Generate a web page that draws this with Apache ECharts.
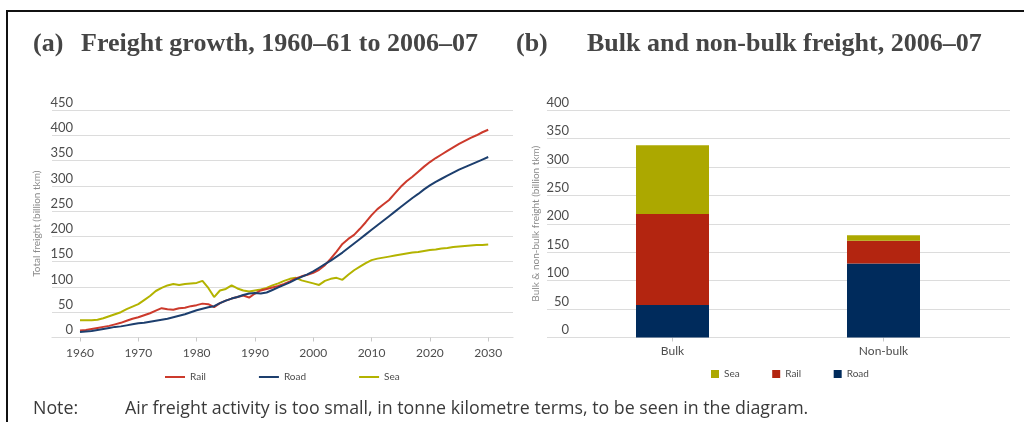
<!DOCTYPE html>
<html>
<head>
<meta charset="utf-8">
<script src="https://cdn.jsdelivr.net/npm/echarts@6/dist/echarts.min.js"></script>
<style>
html, body { margin: 0; padding: 0; background: #fff; }
#chart { width: 1024px; height: 422px; }
</style>
</head>
<body>
<div id="chart"></div>
<script>
// (a) freight growth, billion tkm
var years = [1960, 1961, 1962, 1963, 1964, 1965, 1966, 1967, 1968, 1969,
	1970, 1971, 1972, 1973, 1974, 1975, 1976, 1977, 1978, 1979,
	1980, 1981, 1982, 1983, 1984, 1985, 1986, 1987, 1988, 1989,
	1990, 1991, 1992, 1993, 1994, 1995, 1996, 1997, 1998, 1999,
	2000, 2001, 2002, 2003, 2004, 2005, 2006, 2007, 2008, 2009,
	2010, 2011, 2012, 2013, 2014, 2015, 2016, 2017, 2018, 2019,
	2020, 2021, 2022, 2023, 2024, 2025, 2026, 2027, 2028, 2029, 2030];
var railGrowth = [14, 15, 17, 19, 21, 23, 26, 29, 33, 37,
	40, 44, 48, 53, 58, 56, 55, 58, 59, 62,
	64, 67, 66, 60, 68, 73, 77, 80, 83, 79,
	87, 93, 96, 99, 102, 106, 111, 117, 121, 124,
	128, 134, 143, 156, 170, 185, 195, 203, 215, 228,
	242, 254, 263, 272, 285, 298, 309, 318, 328, 338,
	347, 355, 362, 369, 376, 383, 389, 395, 400, 406, 411];
var roadGrowth = [11, 12, 13, 15, 17, 19, 21, 22, 24, 26,
	28, 29, 31, 33, 35, 37, 40, 43, 46, 50,
	54, 57, 60, 62, 68, 73, 77, 80, 84, 87,
	88, 87, 89, 94, 99, 104, 109, 115, 120, 125,
	131, 138, 145, 152, 160, 168, 177, 186, 195, 204,
	213, 222, 231, 240, 249, 258, 267, 276, 284, 293,
	301, 308, 314, 320, 326, 332, 337, 342, 347, 352, 357];
var seaGrowth = [34, 34, 34, 35, 38, 42, 46, 50, 56, 61,
	66, 74, 82, 92, 98, 103, 106, 104, 106, 107,
	108, 112, 98, 80, 93, 96, 103, 97, 93, 91,
	93, 95, 98, 103, 107, 112, 116, 118, 113, 110,
	107, 104, 112, 116, 118, 114, 124, 133, 140, 147,
	153, 156, 158, 160, 162, 164, 166, 168, 169, 171,
	173, 174, 176, 177, 179, 180, 181, 182, 183, 183, 184];
var yearTicks = [1960, 1970, 1980, 1990, 2000, 2010, 2020, 2030];

// (b) bulk and non-bulk freight 2006-07, billion tkm
var freightKinds = ['Bulk', 'Non-bulk'];
var roadBulk = [57, 130];
var railBulk = [160, 40];
var seaBulk = [121, 10];

var chart = echarts.init(document.getElementById('chart'));

function toPairs(vals) {
	return years.map(function(y, i) {
		return [y, vals[i]];
	});
}

var labelColor = '#4d4d4d';
var gridColor = '#dcdcdc';
var uiFont = 'Lato';
var titleFont = 'Liberation Serif';

var titleStyle = {
	fontFamily: titleFont,
	fontWeight: 'bold',
	fontSize: 26,
	color: '#454545'
};
var noteStyle = { fontFamily: 'Open Sans', fontSize: 17.8, fontWeight: 'normal', color: '#3a3a3a' };

var option = {
	animation: false,
	backgroundColor: '#fff',
	title: [
		{ text: '(a)', left: 28, top: 26, textStyle: titleStyle },
		{ text: 'Freight growth, 1960–61 to 2006–07', left: 76, top: 26, textStyle: titleStyle },
		{ text: '(b)', left: 511, top: 26, textStyle: titleStyle },
		{ text: 'Bulk and non-bulk freight, 2006–07', left: 582, top: 26, textStyle: titleStyle },
		{ text: 'Note:', left: 28, top: 395, textStyle: noteStyle },
		{ text: 'Air freight activity is too small, in tonne kilometre terms, to be seen in the diagram.', left: 120, top: 395, textStyle: noteStyle }
	],
	graphic: [{
		type: 'polyline',
		shape: { points: [[7, 422], [7, 11], [1024, 11]] },
		style: { stroke: '#111', lineWidth: 2, fill: null }
	}],
	legend: [{
		data: ['Rail', 'Road', 'Sea'],
		left: 160,
		top: 367,
		icon: 'rect',
		itemWidth: 20,
		itemHeight: 2,
		itemGap: 53,
		textStyle: { fontFamily: uiFont, fontSize: 10, color: labelColor }
	}, {
		data: ['Sea ', 'Rail ', 'Road '],
		left: 706,
		top: 364,
		icon: 'rect',
		itemWidth: 8,
		itemHeight: 8,
		itemGap: 30,
		textStyle: { fontFamily: uiFont, fontSize: 10, color: labelColor }
	}],
	grid: [
		{ left: 52, right: 511, top: 110, bottom: 84.5 },
		{ left: 547, right: 14, top: 110, bottom: 84.5 },
		{ left: 567, right: 35, top: 110, bottom: 84.5 }
	],
	xAxis: [{
		gridIndex: 0,
		type: 'value',
		min: 1955.2,
		max: 2034.25,
		splitLine: { show: false },
		axisLine: { show: true, lineStyle: { color: gridColor, width: 1.2 } },
		axisTick: { show: true, length: 4, lineStyle: { color: '#c8c8c8' }, customValues: yearTicks },
		axisLabel: {
			customValues: yearTicks,
			margin: 10,
			fontFamily: uiFont,
			fontSize: 12,
			color: labelColor,
			formatter: function(v) { return String(v); }
		}
	}, {
		gridIndex: 1,
		type: 'value',
		min: 0,
		max: 1,
		show: false
	}, {
		gridIndex: 2,
		type: 'category',
		data: freightKinds,
		axisLine: { show: true, lineStyle: { color: gridColor, width: 1.2 } },
		axisTick: { show: true, alignWithLabel: true, length: 4, lineStyle: { color: '#c8c8c8' } },
		axisLabel: { margin: 8, fontFamily: uiFont, fontSize: 12, color: labelColor }
	}],
	yAxis: [{
		gridIndex: 0,
		type: 'value',
		min: 0,
		max: 450,
		interval: 50,
		name: 'Total freight (billion tkm)',
		nameLocation: 'middle',
		nameGap: 10,
		nameTextStyle: { fontFamily: uiFont, fontSize: 10, color: '#8a8a8a' },
		axisLine: { show: false },
		axisTick: { show: false },
		splitLine: { show: true, lineStyle: { color: gridColor, width: 1.2 } },
		axisLabel: {
			margin: -21,
			verticalAlign: 'bottom',
			padding: [0, 0, 1, 0],
			fontFamily: uiFont,
			fontSize: 13,
			color: labelColor
		}
	}, {
		gridIndex: 1,
		type: 'value',
		min: 0,
		max: 400,
		interval: 50,
		name: 'Bulk & non-bulk freight (billion tkm)',
		nameLocation: 'middle',
		nameGap: 6,
		nameTextStyle: { fontFamily: uiFont, fontSize: 10, color: '#8a8a8a' },
		axisLine: { show: false },
		axisTick: { show: false },
		splitLine: { show: true, lineStyle: { color: gridColor, width: 1.2 } },
		axisLabel: {
			margin: -22,
			verticalAlign: 'bottom',
			padding: [0, 0, 1, 0],
			fontFamily: uiFont,
			fontSize: 13,
			color: labelColor
		}
	}, {
		gridIndex: 2,
		type: 'value',
		min: 0,
		max: 400,
		interval: 50,
		show: false,
		splitLine: { show: false }
	}],
	series: [{
		name: 'Rail',
		type: 'line',
		xAxisIndex: 0,
		yAxisIndex: 0,
		showSymbol: false,
		color: '#cc3a2c',
		lineStyle: { width: 2 },
		data: toPairs(railGrowth),
		z: 3
	}, {
		name: 'Road',
		type: 'line',
		xAxisIndex: 0,
		yAxisIndex: 0,
		showSymbol: false,
		color: '#1d3f6e',
		lineStyle: { width: 2 },
		data: toPairs(roadGrowth),
		z: 4
	}, {
		name: 'Sea',
		type: 'line',
		xAxisIndex: 0,
		yAxisIndex: 0,
		showSymbol: false,
		color: '#b3b300',
		lineStyle: { width: 2 },
		data: toPairs(seaGrowth),
		z: 2
	}, {
		name: 'Road ',
		type: 'bar',
		xAxisIndex: 2,
		yAxisIndex: 2,
		stack: 'kind',
		barWidth: 73,
		color: '#002b5c',
		data: roadBulk
	}, {
		name: 'Rail ',
		type: 'bar',
		xAxisIndex: 2,
		yAxisIndex: 2,
		stack: 'kind',
		barWidth: 73,
		color: '#b32510',
		data: railBulk
	}, {
		name: 'Sea ',
		type: 'bar',
		xAxisIndex: 2,
		yAxisIndex: 2,
		stack: 'kind',
		barWidth: 73,
		color: '#aca800',
		data: seaBulk
	}]
};

chart.setOption(option);
</script>
</body>
</html>
